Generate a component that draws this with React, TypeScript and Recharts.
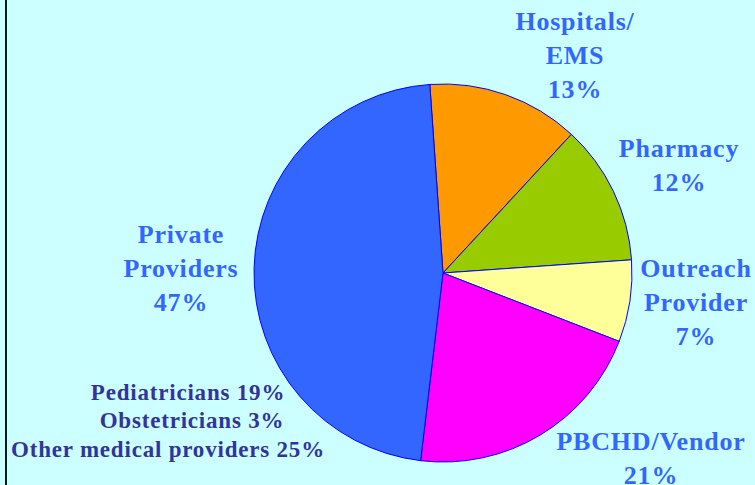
import React from 'react';
import { PieChart, Pie, Cell } from 'recharts';

const categories = ['Hospitals/\nEMS', 'Pharmacy', 'Outreach\nProvider', 'PBCHD/Vendor', 'Private\nProviders'];
const values = [13, 12, 7, 21, 47];
const colors = ['#FF9900', '#99CC00', '#FFFF99', '#FF00FF', '#3366FF'];

const subCategories = ['Pediatricians', 'Obstetricians', 'Other medical providers'];
const subValues = [19, 3, 25];

const data = categories.map((name, i) => ({ name, value: values[i] }));

// label anchor (center x, first baseline y) per slice
const LABEL_POS = [
  { x: 575, y: 30 },
  { x: 679, y: 157 },
  { x: 696, y: 277 },
  { x: 651, y: 450 },
  { x: 181, y: 243 },
];
const SUB_POS = [
  { x: 188, y: 400 },
  { x: 192, y: 428 },
  { x: 168, y: 457 },
];

const FONT = '"Liberation Serif", "Times New Roman", serif';

const renderLabel = (props: any) => {
  const { index, value } = props;
  const pos = LABEL_POS[index];
  const lines = [...categories[index].split('\n'), `${value}%`];
  return (
    <g key={`lbl-${index}`}>
      <text
        x={pos.x}
        y={pos.y}
        textAnchor="middle"
        fill="#3366FF"
        fontFamily={FONT}
        fontWeight="bold"
        fontSize={26}
        letterSpacing={0.8}
      >
        {lines.map((l, j) => (
          <tspan key={j} x={pos.x} dy={j === 0 ? 0 : 34}>
            {l}
          </tspan>
        ))}
      </text>
      {index === 4 &&
        subCategories.map((s, k) => (
          <text
            key={`sub-${k}`}
            x={SUB_POS[k].x}
            y={SUB_POS[k].y}
            textAnchor="middle"
            fill="#333399"
            fontFamily={FONT}
            fontWeight="bold"
            fontSize={23}
            letterSpacing={0.8}
          >
            {`${s} ${subValues[k]}%`}
          </text>
        ))}
    </g>
  );
};

export default function App() {
  return (
    <div
      style={{
        position: 'absolute',
        left: 0,
        top: 0,
        width: 755,
        height: 485,
        background: '#CCFFFF',
        overflow: 'hidden',
      }}
    >
      <div style={{ position: 'absolute', left: 5, top: 0, width: 2, height: 485, background: '#0a1a1a' }} />
      <PieChart
        width={755}
        height={485}
        margin={{ top: 0, right: 0, bottom: 0, left: 0 }}
        style={{ position: 'absolute', left: 0, top: 0 }}
      >
        <Pie
          data={data}
          dataKey="value"
          nameKey="name"
          cx={443}
          cy={273}
          outerRadius={189}
          startAngle={94}
          endAngle={-266}
          stroke="#0000FF"
          strokeWidth={1}
          label={renderLabel}
          labelLine={false}
          isAnimationActive={false}
        >
          {data.map((d, i) => (
            <Cell key={d.name} fill={colors[i]} />
          ))}
        </Pie>
      </PieChart>
    </div>
  );
}
